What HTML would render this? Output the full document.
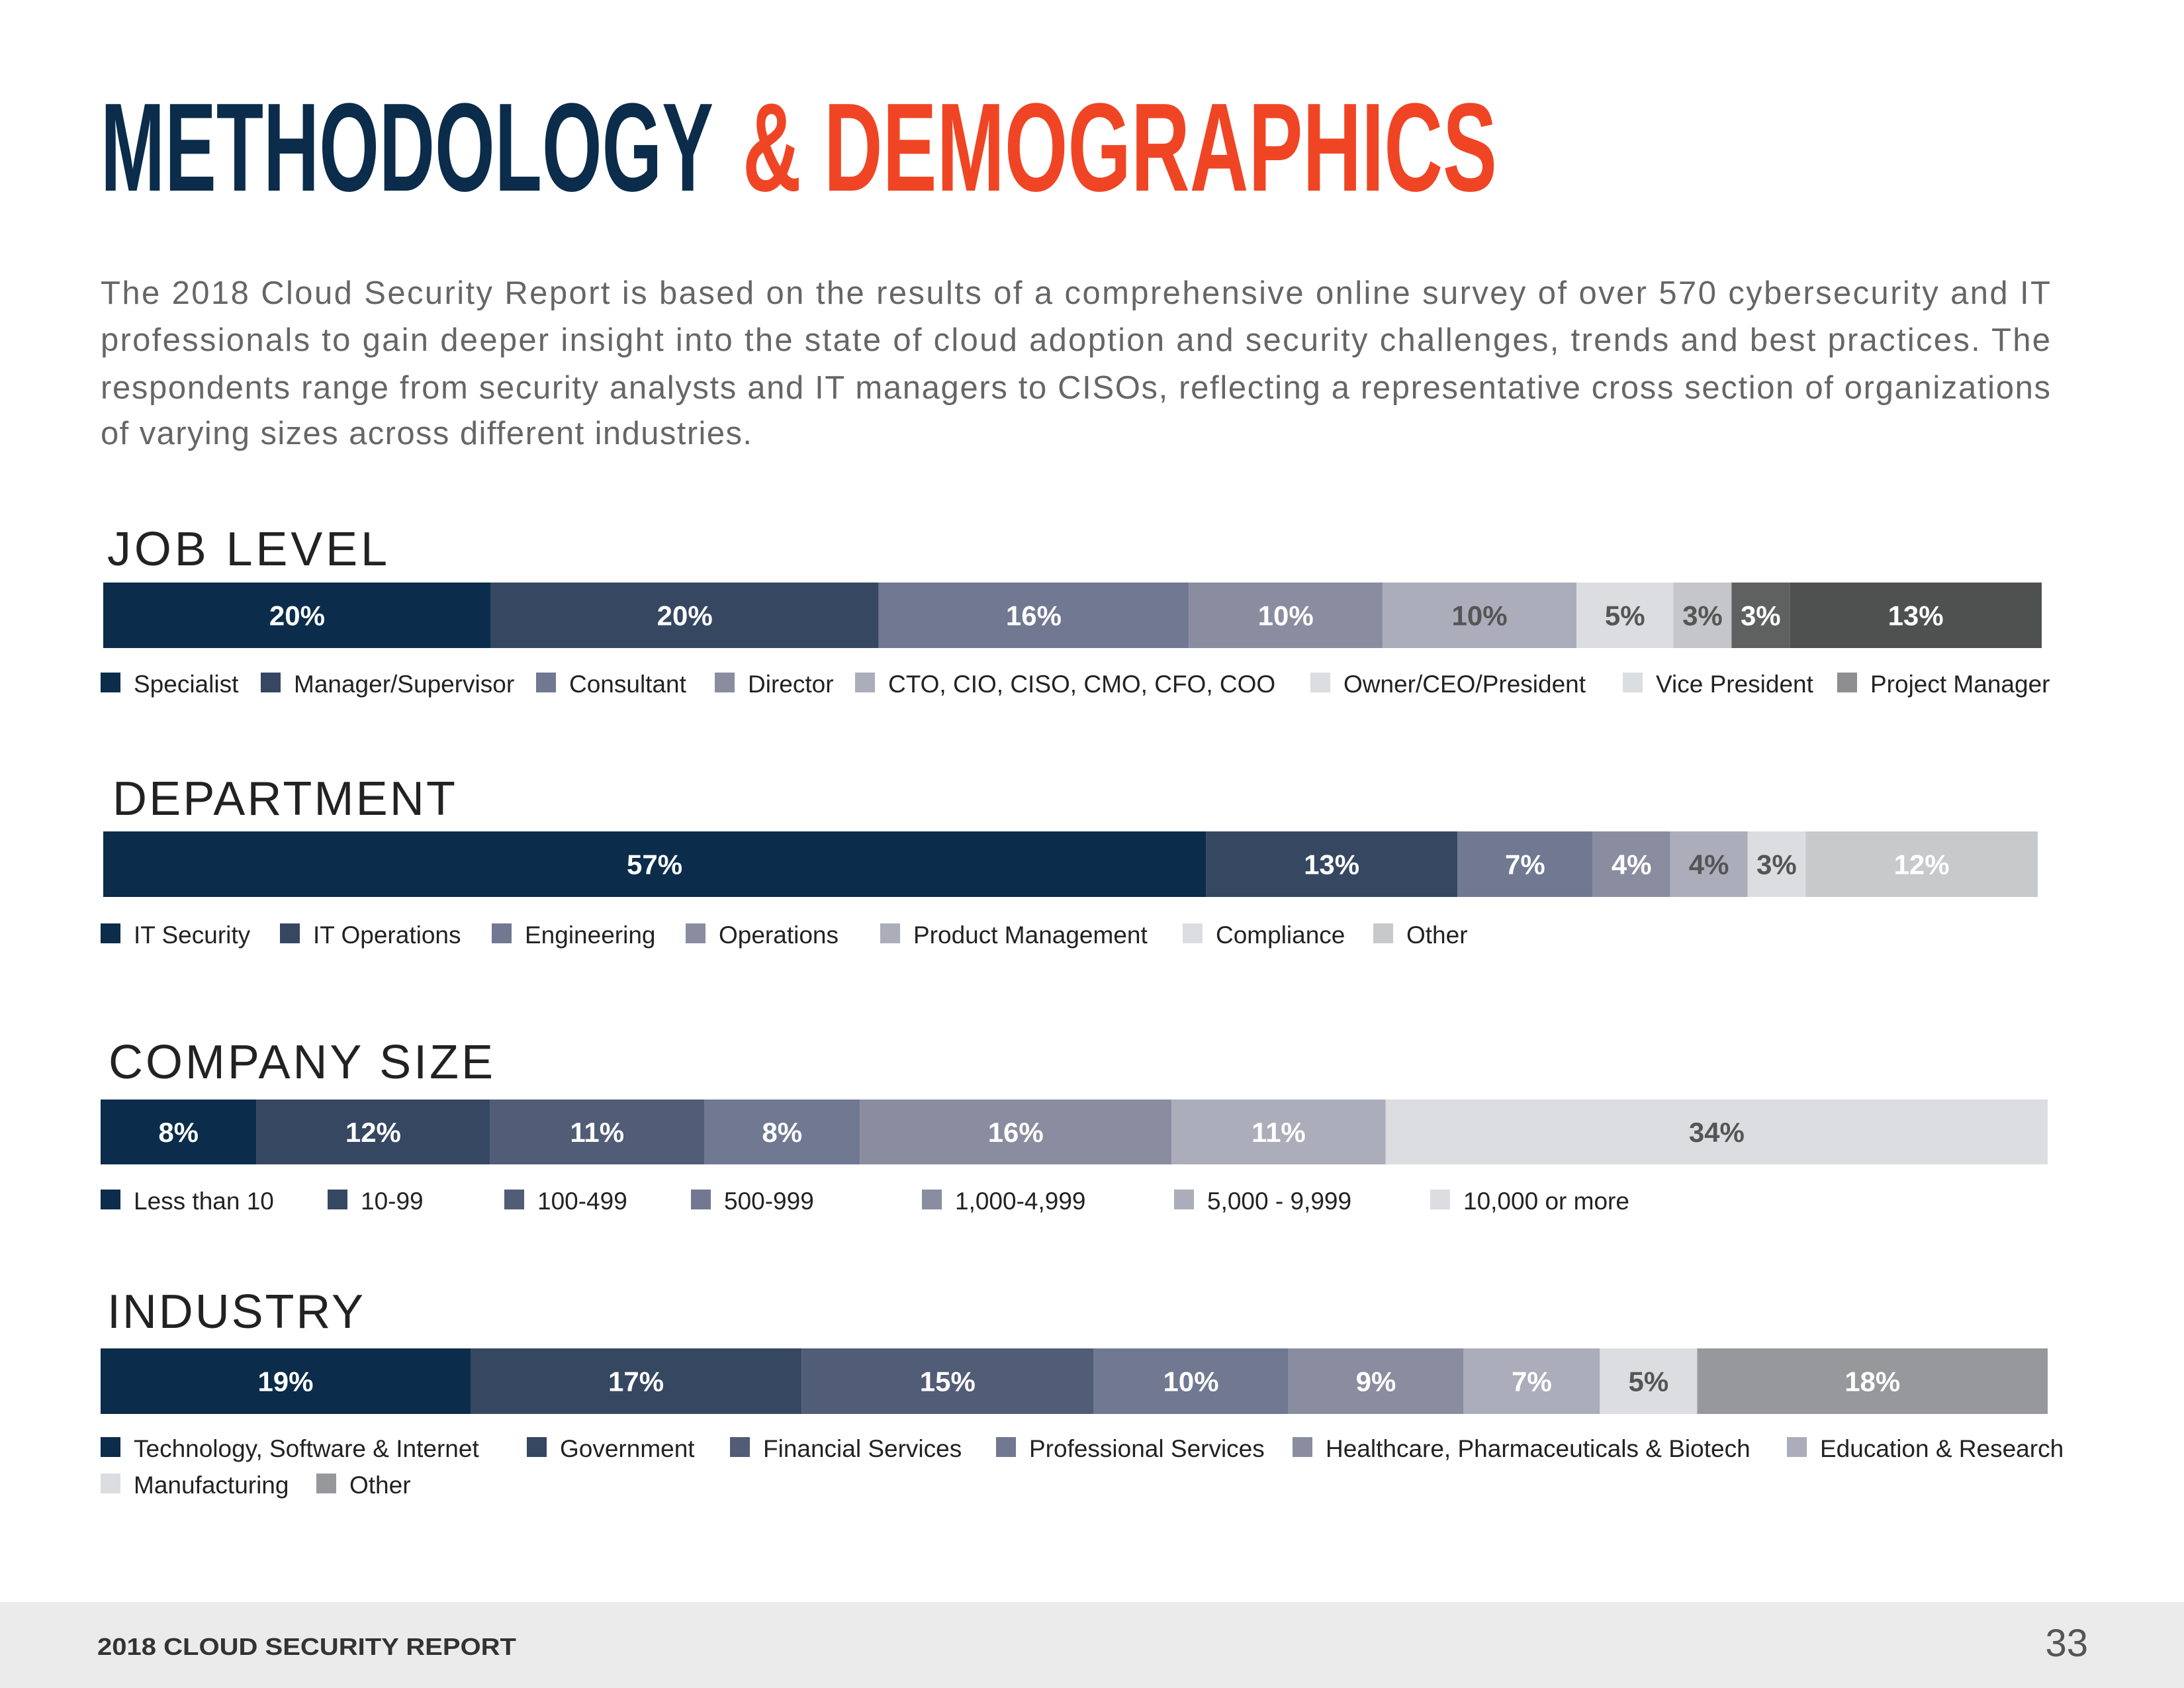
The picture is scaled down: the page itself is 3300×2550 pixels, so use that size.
<!DOCTYPE html>
<html><head><meta charset="utf-8"><style>
html,body{margin:0;padding:0;background:#fff}
svg{display:block}
text{font-family:"Liberation Sans",sans-serif}
</style></head><body>
<svg id="page" width="3300" height="2550" viewBox="0 0 3300 2550" xmlns="http://www.w3.org/2000/svg">
<rect width="3300" height="2550" fill="#fff"/>
<text y="288" font-size="190" font-weight="bold"><tspan x="152" fill="#0b2c4a" textLength="926" lengthAdjust="spacingAndGlyphs">METHODOLOGY</tspan><tspan x="1122" fill="#f04524" textLength="1140" lengthAdjust="spacingAndGlyphs">&amp; DEMOGRAPHICS</tspan></text>
<g fill="#666" font-size="49">
<text x="152" y="459" textLength="2946" lengthAdjust="spacing">The 2018 Cloud Security Report is based on the results of a comprehensive online survey of over 570 cybersecurity and IT</text>
<text x="152" y="530" textLength="2946" lengthAdjust="spacing">professionals to gain deeper insight into the state of cloud adoption and security challenges, trends and best practices. The</text>
<text x="152" y="602" textLength="2946" lengthAdjust="spacing">respondents range from security analysts and IT managers to CISOs, reflecting a representative cross section of organizations</text>
<text x="152" y="671" textLength="984" lengthAdjust="spacing">of varying sizes across different industries.</text>
</g>
<g id="charts"></g>
<rect x="0" y="2420" width="3300" height="130" fill="#ebebeb"/>
<text x="147" y="2500" font-size="36" font-weight="bold" fill="#333" textLength="633" lengthAdjust="spacingAndGlyphs">2018 CLOUD SECURITY REPORT</text>
<text x="3155" y="2502" font-size="58" fill="#555" text-anchor="end">33</text>
</svg>
<script>
// Job level
const jobCategories = ["Specialist","Manager/Supervisor","Consultant","Director","CTO, CIO, CISO, CMO, CFO, COO","Owner/CEO/President","Vice President","Project Manager"];
const jobValues = [20,20,16,10,10,5,3,3,13];
const jobLabels = ["20%","20%","16%","10%","10%","5%","3%","3%","13%"];
// Department
const deptCategories = ["IT Security","IT Operations","Engineering","Operations","Product Management","Compliance","Other"];
const deptValues = [57,13,7,4,4,3,12];
const deptLabels = ["57%","13%","7%","4%","4%","3%","12%"];
// Company size
const sizeCategories = ["Less than 10","10-99","100-499","500-999","1,000-4,999","5,000 - 9,999","10,000 or more"];
const sizeValues = [8,12,11,8,16,11,34];
const sizeLabels = ["8%","12%","11%","8%","16%","11%","34%"];
// Industry
const indCategories = ["Technology, Software & Internet","Government","Financial Services","Professional Services","Healthcare, Pharmaceuticals & Biotech","Education & Research","Manufacturing","Other"];
const indValues = [19,17,15,10,9,7,5,18];
const indLabels = ["19%","17%","15%","10%","9%","7%","5%","18%"];

const NS="http://www.w3.org/2000/svg";
const root=document.getElementById('charts');
function mk(tag,attrs,parent){const e=document.createElementNS(NS,tag);for(const k in attrs)e.setAttribute(k,attrs[k]);parent.appendChild(e);return e;}

const charts=[
 {key:'job',title:'JOB LEVEL',tx:162,ty:854,tw:423,x0:156,x1:3085,y0:880,y1:979,vals:jobValues,labs:jobLabels,cats:jobCategories,
  colors:["#0b2c4a","#364762","#717891","#8a8da0","#abadbb","#dcdde0","#c5c6c9","#5f6060","#4f5050"],
  lc:["#fff","#fff","#fff","#fff","#555","#555","#555","#fff","#fff"],
  leg:[[152,1046],[394,1046],[810,1046],[1080,1046],[1292,1046],[1980,1046],[2452,1046],[2776,1046]],
  legc:["#0b2c4a","#364762","#717891","#8a8da0","#abadbb","#dcdde0","#dcdde0","#8e8e90"]},
 {key:'dept',title:'DEPARTMENT',tx:170,ty:1231,tw:518,x0:156,x1:3079,y0:1256,y1:1355,vals:deptValues,labs:deptLabels,cats:deptCategories,
  colors:["#0b2c4a","#364762","#717891","#8a8da0","#abadbb","#dcdde0","#c8c9cb"],
  lc:["#fff","#fff","#fff","#fff","#555","#555","#fff"],
  leg:[[152,1425],[423,1425],[743,1425],[1036,1425],[1330,1425],[1787,1425],[2075,1425]],
  legc:["#0b2c4a","#364762","#717891","#8a8da0","#abadbb","#dcdde0","#c8c9cb"]},
 {key:'size',title:'COMPANY SIZE',tx:164,ty:1629,tw:581,x0:152,x1:3094,y0:1661,y1:1759,vals:sizeValues,labs:sizeLabels,cats:sizeCategories,
  colors:["#0b2c4a","#364762","#515c76","#717891","#8a8da0","#abadbb","#dcdde0"],
  lc:["#fff","#fff","#fff","#fff","#fff","#fff","#555"],
  leg:[[152,1827],[495,1827],[762,1827],[1044,1827],[1393,1827],[1774,1827],[2161,1827]],
  legc:["#0b2c4a","#364762","#515c76","#717891","#8a8da0","#abadbb","#dcdde0"]},
 {key:'industry',title:'INDUSTRY',tx:162,ty:2006,tw:387,x0:152,x1:3094,y0:2037,y1:2136,vals:indValues,labs:indLabels,cats:indCategories,
  colors:["#0b2c4a","#364762","#515c76","#717891","#8a8da0","#abadbb","#dcdde0","#97989b"],
  lc:["#fff","#fff","#fff","#fff","#fff","#fff","#555","#fff"],
  leg:[[152,2201],[796,2201],[1103,2201],[1505,2201],[1953,2201],[2700,2201],[152,2256],[478,2256]],
  legc:["#0b2c4a","#364762","#515c76","#717891","#8a8da0","#abadbb","#dcdde0","#97989b"]}
];

charts.forEach(c=>{
  const g=mk('g',{},root);
  
  
  const t=mk('text',{x:c.tx,y:c.ty,'font-size':72,fill:'#222',textLength:c.tw,lengthAdjust:'spacing'},g);
  
  
  t.textContent=c.title;
  const total=c.vals.reduce((a,b)=>a+b,0);
  const xs=v=>c.x0+(v/total)*(c.x1-c.x0);
  let cum=0;
  c.vals.forEach((v,i)=>{
    const xa=xs(cum), xb=xs(cum+v); cum+=v;
    const r=mk('rect',{x:xa,y:c.y0,width:xb-xa,height:c.y1-c.y0,fill:c.colors[i]},g);
    
    
    const l=mk('text',{x:(xa+xb)/2,y:(c.y0+c.y1)/2+15,'font-size':42,'font-weight':'bold',fill:c.lc[i],'text-anchor':'middle'},g);
    
    
    l.textContent=c.labs[i];
  });
  c.cats.forEach((name,i)=>{
    const [lx,ly]=c.leg[i];
    const s=mk('rect',{x:lx,y:ly-30,width:30,height:30,fill:c.legc[i]},g);
    
    
    const lt=mk('text',{x:lx+50,y:ly,'font-size':37,fill:'#222'},g);
    
    
    lt.textContent=name;
  });
});
</script>
</body></html>
